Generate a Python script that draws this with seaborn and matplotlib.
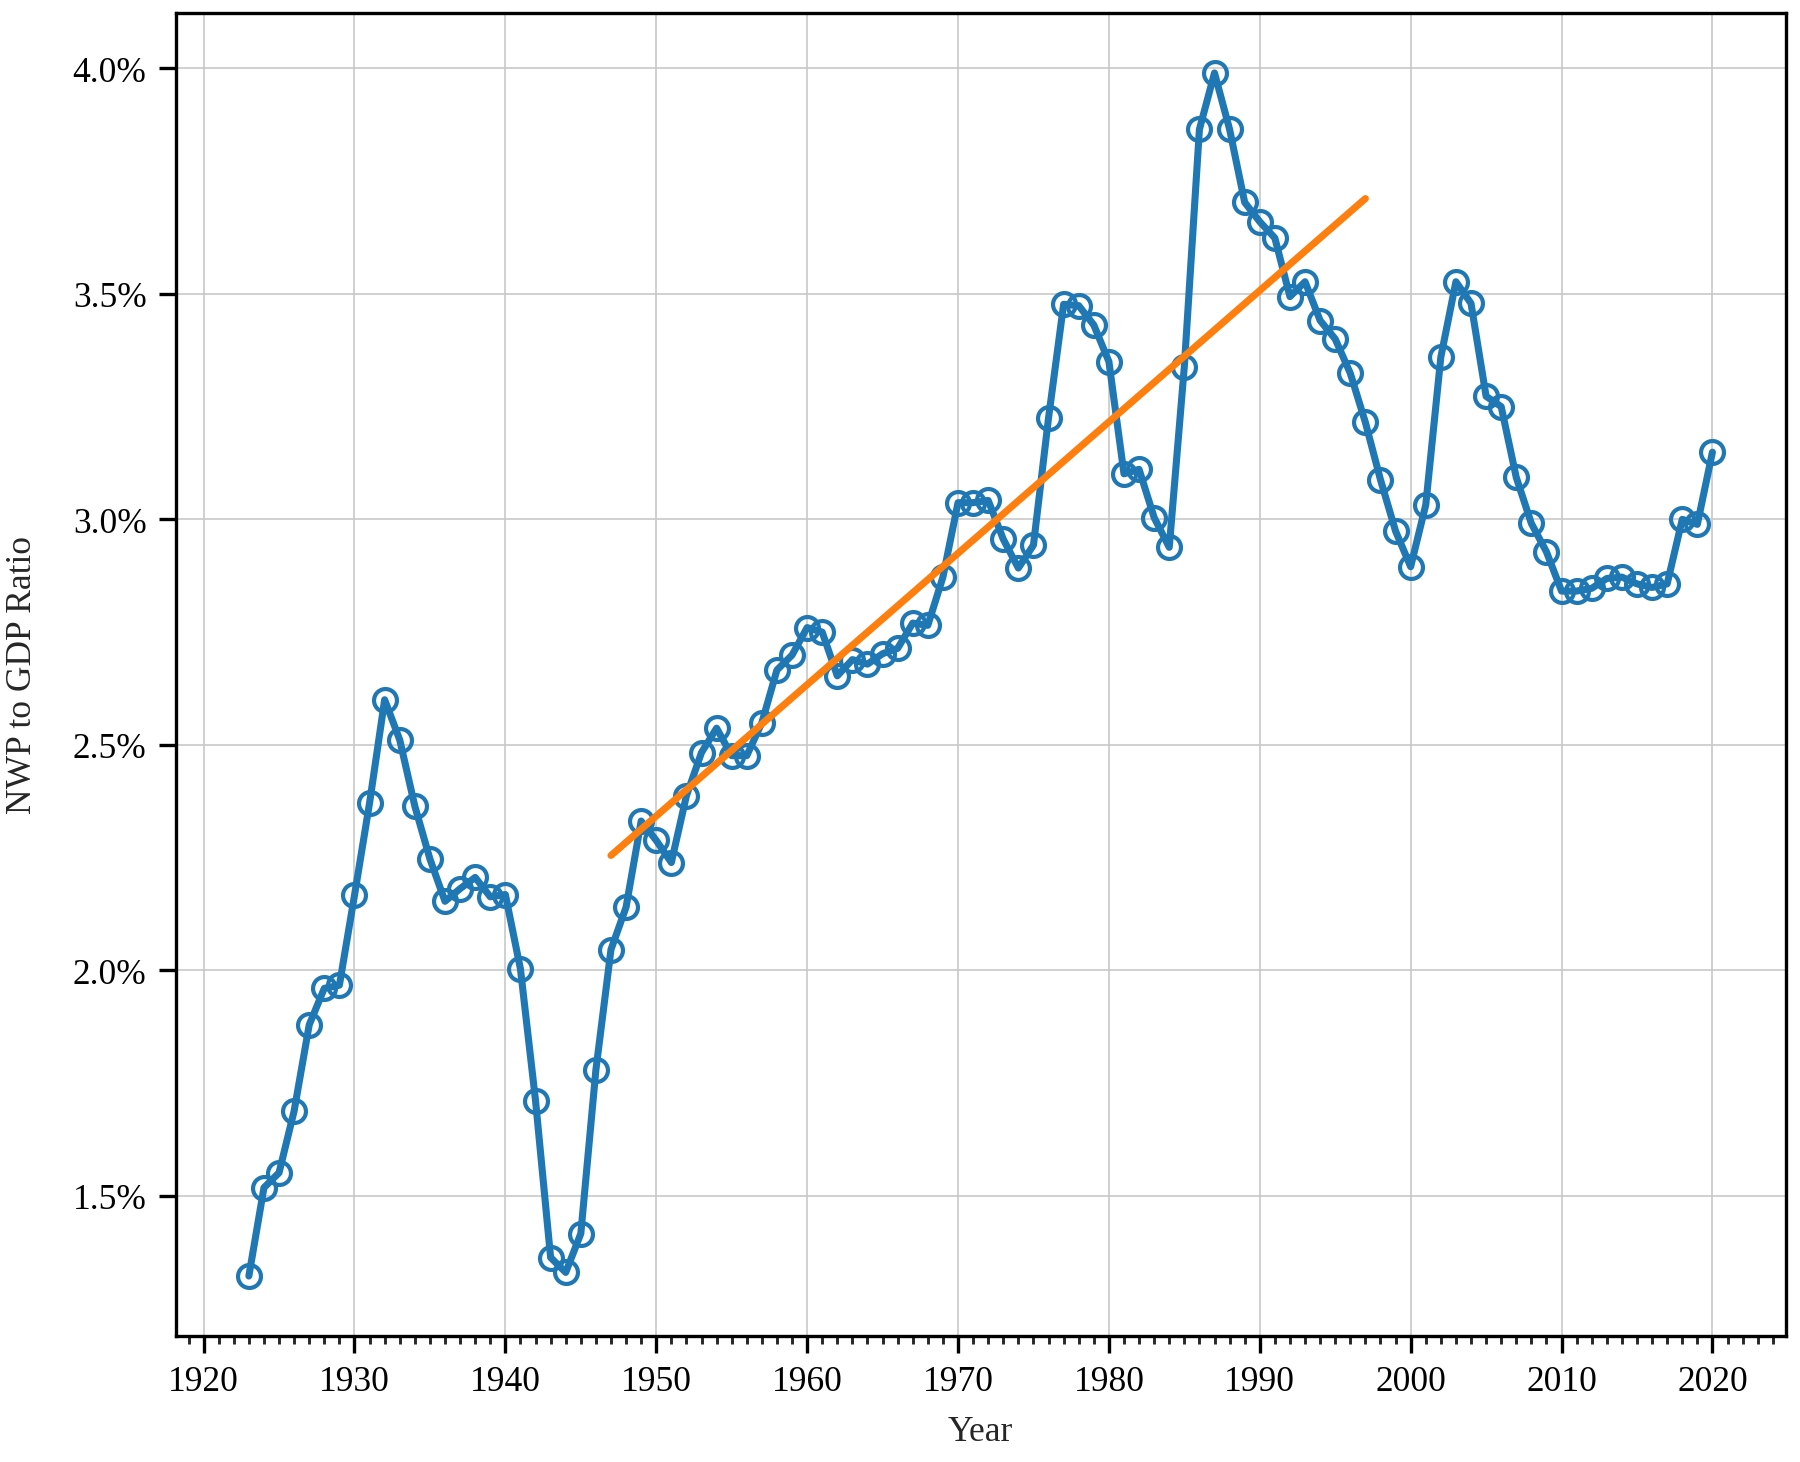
import numpy as np
import pandas as pd
import matplotlib
matplotlib.use("Agg")
import matplotlib.pyplot as plt
from matplotlib.ticker import MultipleLocator, PercentFormatter
import seaborn as sns

years = list(range(1923, 2021))
ratio = [
    1.322, 1.518, 1.551, 1.688, 1.879, 1.960, 1.967, 2.166, 2.371, 2.600,  # 1923-1932
    2.511, 2.364, 2.247, 2.153, 2.181, 2.206, 2.163, 2.168, 2.003, 1.711,  # 1933-1942
    1.363, 1.330, 1.416, 1.779, 2.046, 2.140, 2.331, 2.288, 2.239, 2.387,  # 1943-1952
    2.483, 2.537, 2.476, 2.476, 2.549, 2.666, 2.699, 2.760, 2.750, 2.653,  # 1953-1962
    2.689, 2.679, 2.702, 2.714, 2.770, 2.765, 2.872, 3.037, 3.037, 3.042,  # 1963-1972
    2.956, 2.892, 2.943, 3.225, 3.477, 3.474, 3.431, 3.350, 3.101, 3.111,  # 1973-1982
    3.004, 2.938, 3.339, 3.865, 3.990, 3.865, 3.703, 3.660, 3.624, 3.494,  # 1983-1992
    3.527, 3.441, 3.400, 3.324, 3.215, 3.088, 2.974, 2.895, 3.032, 3.360,  # 1993-2002
    3.527, 3.479, 3.273, 3.250, 3.093, 2.991, 2.928, 2.841, 2.841, 2.847,  # 2003-2012
    2.869, 2.872, 2.857, 2.849, 2.857, 3.000, 2.989, 3.149,                # 2013-2020
]
trend_start, trend_end = 1947, 1997

df = pd.DataFrame({"Year": years, "Ratio": ratio})
sub = df[(df.Year >= trend_start) & (df.Year <= trend_end)]
coef = np.polyfit(sub.Year, sub.Ratio, 1)
trend = pd.DataFrame({"Year": [trend_start, trend_end]})
trend["Ratio"] = np.polyval(coef, trend.Year)

sns.set_style("ticks")
plt.rcParams["font.family"] = ["Liberation Serif", "DejaVu Serif"]

fig = plt.figure(figsize=(12, 9.753), dpi=150)
ax = fig.add_axes([0.0976, 0.086, 0.8944, 0.9046])

sns.lineplot(data=df, x="Year", y="Ratio", ax=ax, color="#1f77b4", linewidth=3.4,
             marker="o", markersize=11, markerfacecolor="none",
             markeredgecolor="#1f77b4", markeredgewidth=2.0, zorder=3)
sns.lineplot(data=trend, x="Year", y="Ratio", ax=ax, color="#ff7f0e", linewidth=3.4, zorder=4)

ax.xaxis.set_major_locator(MultipleLocator(10))
ax.xaxis.set_minor_locator(MultipleLocator(1))
ax.yaxis.set_major_locator(MultipleLocator(0.5))
ax.yaxis.set_major_formatter(PercentFormatter(decimals=1))
ax.grid(True, which="major", color="#c8c8c8", linewidth=0.8)
ax.set_axisbelow(True)

for s in ax.spines.values():
    s.set_visible(True)
    s.set_linewidth(1.6)
    s.set_color("black")
ax.tick_params(axis="both", which="major", direction="out", length=8, width=1.6,
               labelsize=17, colors="black", pad=6)
ax.tick_params(axis="x", which="minor", direction="out", length=4, width=1.4)
ax.set_xlabel("Year", fontsize=17, labelpad=8)
ax.set_ylabel("NWP to GDP Ratio", fontsize=17, labelpad=16)

fig.savefig("out.png", dpi=150)
